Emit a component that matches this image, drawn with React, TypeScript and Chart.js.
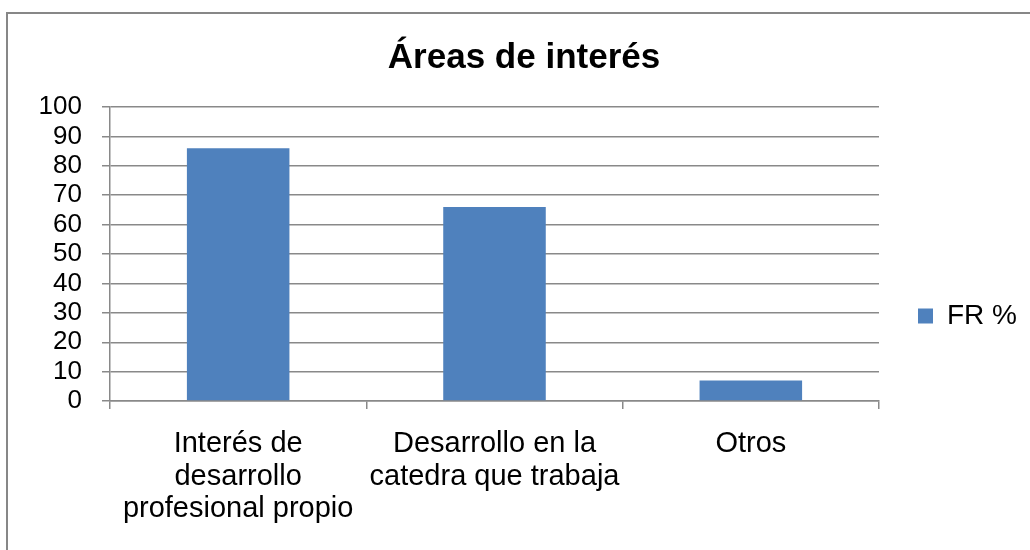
import React, { useEffect, useRef } from "react";
import { Chart, registerables } from "chart.js";

Chart.register(...registerables);

const categories: string[][] = [
  ["Interés de", "desarrollo", "profesional propio"],
  ["Desarrollo en la", "catedra que trabaja"],
  ["Otros"],
];
const seriesLabel = "FR %";
const seriesValues: number[] = [86, 66, 7];
const chartTitle = "Áreas de interés";
const yMin = 0;
const yMax = 100;
const yStep = 10;

const FONT = "'Liberation Sans', Arial, sans-serif";
const GRID = "#898989";

export default function App() {
  const canvasRef = useRef<HTMLCanvasElement | null>(null);

  useEffect(() => {
    const canvas = canvasRef.current;
    if (!canvas) return;
    const chart = new Chart(canvas, {
      type: "bar",
      data: {
        labels: categories,
        datasets: [
          {
            label: seriesLabel,
            data: seriesValues,
            backgroundColor: "#4F81BD",
            borderWidth: 0,
            barPercentage: 0.4,
            categoryPercentage: 1,
          },
        ],
      },
      options: {
        responsive: false,
        animation: false,
        devicePixelRatio: 1,
        layout: { padding: { left: 21, right: 3, top: 0, bottom: 6 } },
        plugins: {
          tooltip: { enabled: false },
          title: {
            display: true,
            text: chartTitle,
            color: "#000",
            font: { family: FONT, size: 35, weight: "bold", lineHeight: 1.2 },
            padding: { top: 37, bottom: 28 },
          },
          legend: {
            display: true,
            position: "right",
            align: "center",
            title: {
              display: true,
              text: "",
              font: { family: FONT, size: 10, lineHeight: 1.2 },
              padding: { top: 0, bottom: 76 },
            },
            labels: {
              color: "#000",
              font: { family: FONT, size: 28 },
              boxWidth: 15,
              boxHeight: 15,
              padding: 39,
            },
          },
        },
        scales: {
          x: {
            offset: true,
            grid: {
              display: true,
              offset: true,
              drawOnChartArea: false,
              drawTicks: true,
              tickLength: 8,
              color: GRID,
              lineWidth: 1.5,
            },
            border: { display: true, color: GRID, width: 1.5 },
            ticks: {
              color: "#000",
              font: { family: FONT, size: 29, lineHeight: 1.114 },
              padding: 19,
              maxRotation: 0,
              minRotation: 0,
              autoSkip: false,
            },
          },
          y: {
            min: yMin,
            max: yMax,
            afterFit: (scale: any) => {
              scale.width = 89;
            },
            grid: {
              color: GRID,
              lineWidth: 1.5,
              drawTicks: true,
              tickLength: 8,
            },
            border: { display: true, color: GRID, width: 1.5 },
            ticks: {
              stepSize: yStep,
              autoSkip: false,
              color: "#000",
              font: { family: FONT, size: 26 },
              padding: 20,
            },
          },
        },
      },
    });
    return () => chart.destroy();
  }, []);

  return (
    <div
      style={{
        position: "fixed",
        left: 0,
        top: 0,
        width: 1030,
        height: 550,
        overflow: "hidden",
        background: "#fff",
      }}
    >
      <div
        style={{
          position: "absolute",
          left: 6,
          top: 12,
          width: 1060,
          height: 560,
          border: "2px solid #878787",
          boxSizing: "border-box",
        }}
      />
      <canvas
        ref={canvasRef}
        width={1030}
        height={550}
        style={{ position: "absolute", left: 0, top: 0 }}
      />
    </div>
  );
}
